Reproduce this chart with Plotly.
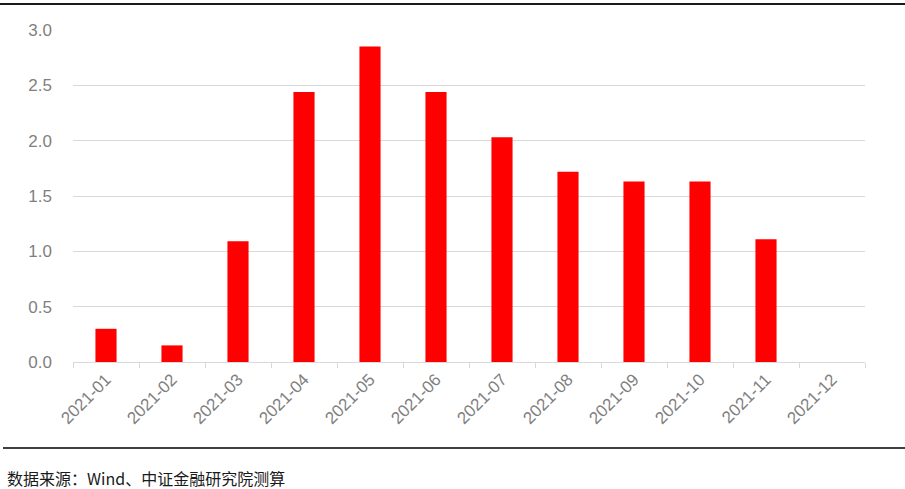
import plotly.graph_objects as go

months = ["2021-01", "2021-02", "2021-03", "2021-04", "2021-05", "2021-06",
          "2021-07", "2021-08", "2021-09", "2021-10", "2021-11", "2021-12"]
values = [0.30, 0.15, 1.09, 2.44, 2.85, 2.44, 2.03, 1.72, 1.63, 1.63, 1.11, None]
y_ticks = [0, 0.5, 1.0, 1.5, 2.0, 2.5, 3.0]
y_tick_text = ["0.0", "0.5", "1.0", "1.5", "2.0", "2.5", "3.0"]
source_text = "数据来源：Wind、中证金融研究院测算"

W, H = 905, 489
L, R, T, B = 73, 40, 30, 127
pw, ph = W - L - R, H - T - B

def px_x(x):
    return (x - L) / pw

def px_y(y):
    return (H - B - y) / ph

fig = go.Figure(go.Bar(x=months, y=values, marker=dict(color="#ff0000", line=dict(width=0)),
                       width=0.32))

fig.update_layout(
    width=W, height=H,
    margin=dict(l=L, r=R, t=T, b=B),
    plot_bgcolor="white", paper_bgcolor="white",
    showlegend=False,
    font=dict(family="Liberation Sans, Arial, sans-serif", color="#7f7f7f"),
    xaxis=dict(
        type="category", tickangle=-45, tickfont=dict(size=17, color="#7f7f7f"),
        showline=True, linecolor="#d9d9d9", linewidth=1,
        ticks="outside", ticklen=5, tickcolor="#d9d9d9", tickson="boundaries",
        showgrid=False, range=[-0.5, 11.5],
    ),
    yaxis=dict(
        range=[0, 3.0], tickvals=y_ticks, ticktext=y_tick_text,
        tickfont=dict(size=17, color="#7f7f7f"),
        showgrid=True, gridcolor="#d9d9d9", gridwidth=1,
        zeroline=False, showline=False, ticks="", ticklabelstandoff=20,
    ),
    shapes=[
        dict(type="line", xref="paper", yref="paper", x0=px_x(0), x1=px_x(W),
             y0=px_y(4), y1=px_y(4), line=dict(color="#1a1a1a", width=2)),
        dict(type="line", xref="paper", yref="paper", x0=px_x(3), x1=px_x(W),
             y0=px_y(448), y1=px_y(448), line=dict(color="#404040", width=2)),
    ],
    annotations=[
        dict(text=source_text, xref="paper", yref="paper", x=px_x(5), y=px_y(478),
             xanchor="left", yanchor="middle", showarrow=False,
             font=dict(size=16, color="#1a1a1a", family="Noto Sans CJK SC, sans-serif")),
    ],
)

fig.write_html("out.html", config={"displayModeBar": False},
               post_script="document.body.style.margin='0';document.body.style.padding='0';"
                           "document.body.style.overflow='hidden';")
